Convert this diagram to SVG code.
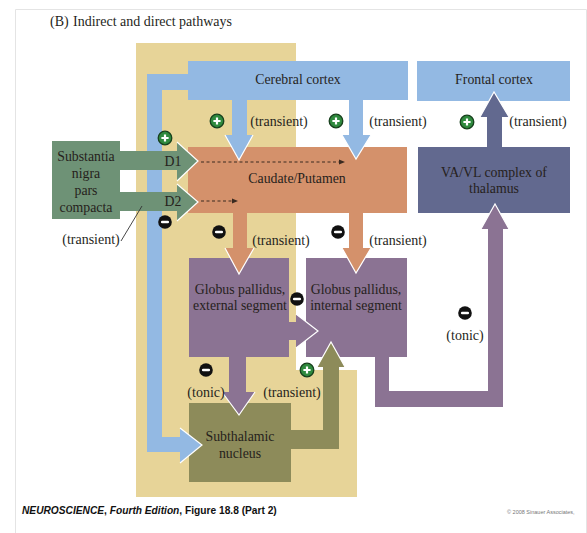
<svg xmlns="http://www.w3.org/2000/svg" width="587" height="533" viewBox="0 0 587 533">
<style>
.lbl{font-family:"Liberation Serif","Times New Roman",serif;font-size:13.8px;fill:#261f1c;text-anchor:middle}
.note{font-family:"Liberation Serif","Times New Roman",serif;font-size:14px;fill:#261f1c;text-anchor:middle}
.tip{fill:none;stroke:#ffffff;stroke-width:1.2;stroke-linejoin:miter}
.foot{font-family:"Liberation Sans",Arial,sans-serif;font-size:10.2px;font-weight:bold;fill:#111}
.blue{fill:#93b9e3}
.orange{fill:#d4916b}
.purple{fill:#8b7393}
.slate{fill:#62698f}
.green{fill:#6e9276}
.olive{fill:#8d8b5a}
</style>
<defs>
<g id="p"><circle r="6.8" fill="#2f8a3e" stroke="#17401d" stroke-width="1.3"/><path d="M-3.6 0H3.6M0 -3.6V3.6" stroke="#ffffff" stroke-width="2.2" fill="none"/></g>
<g id="m"><circle r="6.8" fill="#111111"/><path d="M-2.8 0H2.8" stroke="#ffffff" stroke-width="2.6" stroke-linecap="round" fill="none"/></g>
</defs>
<rect width="587" height="533" fill="#ffffff"/>
<path d="M15.5 533V9.5H586.5V533" fill="none" stroke="#e4e4e4" stroke-width="1"/>
<text x="50" y="26" font-family="'Liberation Serif',serif" font-size="14" fill="#261f1c">(B)</text>
<text x="73" y="26" font-family="'Liberation Serif',serif" font-size="14" fill="#261f1c">Indirect and direct pathways</text>
<polygon id="backdrop" points="136,43 296,43 296,370 357,370 357,497 136,497" fill="#e7d498"/>

<g id="nodes-boxes">
<g id="cortex"><rect x="188" y="61" width="220" height="39" class="blue"/><text x="298" y="84" class="lbl">Cerebral cortex</text></g>
<g id="frontal"><rect x="417" y="61" width="153" height="40" class="blue"/><text x="494" y="84" class="lbl">Frontal cortex</text></g>
<g id="caudate"><rect x="188" y="147" width="219" height="66" class="orange"/></g>
<g id="thalamus"><rect x="418" y="147" width="152" height="66" class="slate"/></g>
<g id="gpe"><rect x="189" y="258" width="100" height="99" class="purple"/></g>
<g id="gpi"><rect x="306" y="258" width="101" height="99" class="purple"/></g>
<g id="stn"><rect x="189" y="403" width="102" height="79" class="olive"/></g>
<g id="snc"><rect x="52" y="141" width="68" height="78" class="green"/></g>
</g>

<g id="connectors">
<polygon class="blue" points="188,74 147,74 147,452 180,452 180,463 202,445 180,428 180,437 162,437 162,90 188,90"/>
<polyline class="tip" points="180,428 202,445 180,463"/>
<polygon class="blue" points="232,100 232,135 225,135 239,160 253,135 247,135 247,100"/>
<polyline class="tip" points="225,135 239,160 253,135"/>
<polygon class="blue" points="349,100 349,135 342,135 356,159 371,135 363,135 363,100"/>
<polyline class="tip" points="342,135 356,159 371,135"/>
<polygon class="green" points="120,151 177,151 177,142 198,161 177,181 177,170 120,170"/>
<polyline class="tip" points="177,142 198,161 177,181"/>
<polygon class="green" points="120,192 177,192 177,184 198,202 177,221 177,211 120,211"/>
<polyline class="tip" points="177,184 198,202 177,221"/>
<polygon class="orange" points="233,213 233,248 225,248 239,274 254,248 247,248 247,213"/>
<polyline class="tip" points="225,248 239,274 254,248"/>
<polygon class="orange" points="349,213 349,248 342,248 356,273 371,248 363,248 363,213"/>
<polyline class="tip" points="342,248 356,273 371,248"/>
<polygon class="purple" points="289,322 296,322 296,314 318,331 296,348 296,340 289,340"/>
<polyline class="tip" points="296,314 318,331 296,348"/>
<polygon class="purple" points="229,357 229,392 222,392 239,415 255,392 246,392 246,357"/>
<polyline class="tip" points="222,392 239,415 255,392"/>
<polygon class="olive" points="291,430 323,430 323,367 317,367 331,342 345,367 339,367 339,449 291,449"/>
<polyline class="tip" points="317,367 331,342 345,367"/>
<polygon class="purple" points="375,357 375,407 503,407 503,229 509,229 495,204 481,229 488,229 488,391 389,391 389,357"/>
<polyline class="tip" points="481,229 495,204 509,229"/>
<polygon class="slate" points="487,147 487,117 480,117 494,92 509,117 502,117 502,147"/>
<polyline class="tip" points="480,117 494,92 509,117"/>
<line x1="121" y1="241" x2="142" y2="206" stroke="#333" stroke-width="0.9"/>
<line x1="201" y1="162" x2="340" y2="162" stroke="#3a2a20" stroke-width="1" stroke-dasharray="3,2.5"/>
<polygon points="345,162 339,159.5 339,164.5" fill="#3a2a20"/>
<line x1="201" y1="201" x2="233" y2="201" stroke="#3a2a20" stroke-width="1" stroke-dasharray="3,2.5"/>
<polygon points="238,201 232,198.5 232,203.5" fill="#3a2a20"/>
</g>

<g id="node-labels">
<text x="297" y="183" class="lbl">Caudate/Putamen</text>
<text x="494" y="177" class="lbl">VA/VL complex of</text>
<text x="494" y="193" class="lbl">thalamus</text>
<text x="240" y="294" class="lbl">Globus pallidus,</text>
<text x="240" y="310" class="lbl">external segment</text>
<text x="356" y="294" class="lbl">Globus pallidus,</text>
<text x="356" y="310" class="lbl">internal segment</text>
<text x="240" y="441" class="lbl">Subthalamic</text>
<text x="240" y="458" class="lbl">nucleus</text>
<text x="86" y="161" class="lbl">Substantia</text>
<text x="86" y="178" class="lbl">nigra</text>
<text x="86" y="195" class="lbl">pars</text>
<text x="86" y="212" class="lbl">compacta</text>
<text x="173" y="166" class="lbl">D1</text>
<text x="173" y="206" class="lbl">D2</text>
</g>

<g id="signs">
<use href="#p" x="165" y="138"/>
<use href="#p" x="217" y="121"/>
<use href="#p" x="336" y="121"/>
<use href="#p" x="467" y="122"/>
<use href="#p" x="307" y="370"/>
<use href="#m" x="165" y="222"/>
<use href="#m" x="219" y="232"/>
<use href="#m" x="338" y="232"/>
<use href="#m" x="297" y="299"/>
<use href="#m" x="465" y="313"/>
<use href="#m" x="206" y="370"/>
<text x="279" y="126" class="note">(transient)</text>
<text x="398" y="126" class="note">(transient)</text>
<text x="538" y="126" class="note">(transient)</text>
<text x="91" y="244" class="note">(transient)</text>
<text x="281" y="245" class="note">(transient)</text>
<text x="398" y="245" class="note">(transient)</text>
<text x="465" y="340" class="note">(tonic)</text>
<text x="206" y="397" class="note">(tonic)</text>
<text x="292" y="397" class="note">(transient)</text>
</g>

<text x="22" y="514" class="foot"><tspan font-style="italic">NEUROSCIENCE</tspan>, <tspan font-style="italic">Fourth Edition</tspan>, Figure 18.8 (Part 2)</text>
<text x="507" y="514" font-family="'Liberation Sans',Arial,sans-serif" font-size="5.5" fill="#777">© 2008 Sinauer Associates,</text>
</svg>
